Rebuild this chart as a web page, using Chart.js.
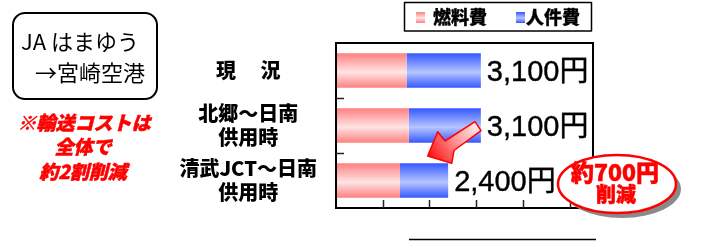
<!DOCTYPE html>
<html><head><meta charset="utf-8">
<script src="https://cdn.jsdelivr.net/npm/chart.js@4.4.1/dist/chart.umd.min.js"></script>
<style>html,body{margin:0;padding:0;background:#fff;}#wrap{width:702px;height:241px;position:relative;}</style>
</head><body><div id="wrap"><canvas id="c"></canvas></div>
<script>
const categories = [['現　 況'], ['北郷～日南', '供用時'], ['清武JCT～日南', '供用時']];
const seriesNames = ['燃料費', '人件費'];
const fuelCost = [1510, 1560, 1370];
const laborCost = [1590, 1540, 1030];
const xTicks = [0, 1000, 2000, 3000, 4000, 5000];
const xMax = 5500;

const JP = '"Noto Sans CJK JP", "Noto Sans", sans-serif';
const NUM = '"Liberation Sans", "Noto Sans CJK JP", sans-serif';
const BAR_PCT = 0.63;

function barGrad(ctx, kind) {
  const chart = ctx.chart;
  const ys = chart.scales && chart.scales.y;
  if (!chart.chartArea || !ys || ctx.dataIndex === undefined) return kind === 0 ? '#ff9090' : '#5070ff';
  const cy = ys.getPixelForValue(ctx.dataIndex);
  const h = ys.height / categories.length * BAR_PCT;
  const g = chart.ctx.createLinearGradient(0, cy - h / 2, 0, cy + h / 2);
  if (kind === 0) {
    g.addColorStop(0, '#ff7f7f'); g.addColorStop(0.55, '#ffe4e4'); g.addColorStop(1, '#ff7f7f');
  } else {
    g.addColorStop(0, '#3557ff'); g.addColorStop(0.55, '#b6c6ff'); g.addColorStop(1, '#3557ff');
  }
  return g;
}

function heavyText(c, t, x, y, w) {
  c.lineWidth = w;
  c.strokeStyle = c.fillStyle;
  c.lineJoin = 'round';
  c.strokeText(t, x, y);
  c.fillText(t, x, y);
}

const decor = {
  id: 'decor',
  beforeDraw(chart) {
    const c = chart.ctx;
    c.save();
    c.fillStyle = '#fff';
    c.fillRect(0, 0, chart.width, chart.height);
    c.restore();
  },
  afterDatasetsDraw(chart) {
    const c = chart.ctx;
    const a = chart.chartArea;
    const xs = chart.scales.x, ys = chart.scales.y;
    c.save();
    // frame
    c.strokeStyle = '#000';
    c.lineWidth = 2;
    c.strokeRect(a.left, a.top, a.right - a.left, a.bottom - a.top);
    // inward ticks
    c.lineWidth = 1.5;
    c.strokeStyle = '#222';
    xTicks.forEach(v => {
      if (v === 0) return;
      const x = Math.round(xs.getPixelForValue(v)) + 0.5;
      c.beginPath(); c.moveTo(x, a.bottom); c.lineTo(x, a.bottom - 8); c.stroke();
    });
    for (let i = 1; i < categories.length; i++) {
      const y = Math.round((ys.getPixelForValue(i - 1) + ys.getPixelForValue(i)) / 2) + 0.5;
      c.beginPath(); c.moveTo(a.left, y); c.lineTo(a.left + 8, y); c.stroke();
    }
    // value labels
    const meta = chart.getDatasetMeta(1);
    c.fillStyle = '#000';
    c.font = '29px ' + NUM;
    c.textBaseline = 'middle';
    c.textAlign = 'left';
    meta.data.forEach((el, i) => {
      const total = fuelCost[i] + laborCost[i];
      heavyText(c, total.toLocaleString('en-US') + '円', el.x + 6, el.y + 2, 0.4);
    });
    // legend
    c.lineWidth = 1.5;
    c.strokeStyle = '#000';
    c.strokeRect(404.5, 2.5, 187, 28.5);
    const sq = [[416, '#ff7f7f', '#ffe4e4'], [516, '#3557ff', '#b6c6ff']];
    const lx = [433, 526];
    sq.forEach((s, k) => {
      const g = c.createLinearGradient(0, 12, 0, 23);
      g.addColorStop(0, s[1]); g.addColorStop(0.55, s[2]); g.addColorStop(1, s[1]);
      c.fillStyle = g;
      c.fillRect(s[0], 12, 9, 11);
      c.fillStyle = '#000';
      c.font = '900 18px ' + JP;
      c.textAlign = 'left';
      heavyText(c, seriesNames[k], lx[k], 17.5, 0.3);
    });
    // bottom line
    c.lineWidth = 1.5;
    c.strokeStyle = '#000';
    c.beginPath(); c.moveTo(409, 239.5); c.lineTo(596, 239.5); c.stroke();

    // left box
    c.lineWidth = 2;
    c.strokeStyle = '#000';
    const bx = 13, by = 13, bw = 144, bh = 86, r = 12;
    c.beginPath();
    c.moveTo(bx + r, by);
    c.arcTo(bx + bw, by, bx + bw, by + bh, r);
    c.arcTo(bx + bw, by + bh, bx, by + bh, r);
    c.arcTo(bx, by + bh, bx, by, r);
    c.arcTo(bx, by, bx + bw, by, r);
    c.closePath(); c.stroke();
    c.fillStyle = '#000';
    c.font = '22px ' + JP;
    c.textAlign = 'left';
    c.fillText('JA はまゆう', 21, 42);
    c.fillText('→宮崎空港', 35, 73);
    // red note
    c.fillStyle = '#ff0000';
    c.font = 'italic 900 19px ' + JP;
    c.textAlign = 'center';
    heavyText(c, '※輸送コストは', 84, 123, 0.5);
    heavyText(c, '全体で', 83, 147, 0.5);
    heavyText(c, '約2割削減', 83, 172, 0.5);

    // arrow
    const pts = [[427.7, 156], [437.7, 131.7], [445, 141], [475, 121.7], [481, 130.7], [454, 150.5], [451.7, 163.3]];
    const ag = c.createLinearGradient(430, 158, 478, 124);
    ag.addColorStop(0, '#ff1010');
    ag.addColorStop(0.55, '#ff9a9a');
    ag.addColorStop(1, '#fff0f0');
    c.beginPath();
    pts.forEach((p, i) => i ? c.lineTo(p[0], p[1]) : c.moveTo(p[0], p[1]));
    c.closePath();
    c.fillStyle = ag; c.fill();
    c.strokeStyle = '#ff0000'; c.lineWidth = 1.5; c.stroke();

    // ellipse callout
    const ex = 617, ey = 184, rx = 59, ry = 29;
    c.fillStyle = '#8a8a8a';
    c.beginPath(); c.ellipse(ex + 5, ey + 5, rx, ry, 0, 0, Math.PI * 2); c.fill();
    c.fillStyle = '#fff';
    c.beginPath(); c.ellipse(ex, ey, rx, ry, 0, 0, Math.PI * 2); c.fill();
    c.strokeStyle = '#ff0000'; c.lineWidth = 2.5; c.stroke();
    c.fillStyle = '#ff0000';
    c.textAlign = 'center';
    c.font = '900 23px ' + JP;
    heavyText(c, '約700円', 615, 172, 0.5);
    c.font = '900 20px ' + JP;
    heavyText(c, '削減', 616, 194, 0.5);
    c.restore();
  }
};

new Chart(document.getElementById('c'), {
  type: 'bar',
  data: {
    labels: categories,
    datasets: [
      { label: seriesNames[0], data: fuelCost, backgroundColor: ctx => barGrad(ctx, 0), borderWidth: 0,
        barPercentage: BAR_PCT, categoryPercentage: 1 },
      { label: seriesNames[1], data: laborCost, backgroundColor: ctx => barGrad(ctx, 1), borderWidth: 0,
        barPercentage: BAR_PCT, categoryPercentage: 1 }
    ]
  },
  options: {
    indexAxis: 'y',
    responsive: true,
    maintainAspectRatio: false,
    animation: false,
    devicePixelRatio: 1,
    layout: { padding: { top: 34, bottom: 33, right: 109, left: 0 } },
    plugins: { legend: { display: false }, tooltip: { enabled: false } },
    scales: {
      x: {
        stacked: true, min: 0, max: xMax,
        afterBuildTicks: s => { s.ticks = xTicks.map(v => ({ value: v })); },
        ticks: { display: false },
        grid: { display: false, drawTicks: false },
        border: { display: false },
        afterFit: s => { s.height = 0; }
      },
      y: {
        stacked: true,
        ticks: {
          color: '#000', crossAlign: 'center', padding: 19,
          font: { family: JP, size: 20, weight: '900', lineHeight: 1.2 }
        },
        grid: { display: false, drawTicks: false },
        border: { display: false },
        afterFit: s => { s.width = 336; }
      }
    }
  },
  plugins: [decor]
});
</script></body></html>
